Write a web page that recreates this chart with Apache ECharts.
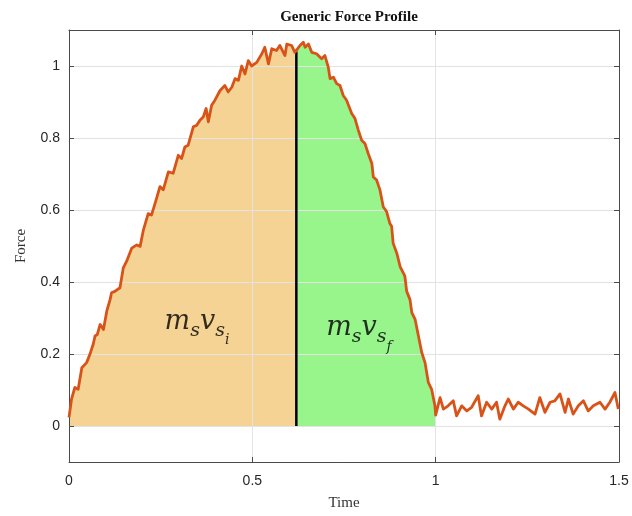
<!DOCTYPE html>
<html><head><meta charset="utf-8">
<script src="https://cdn.jsdelivr.net/npm/echarts@6/dist/echarts.min.js"></script>
<style>html,body{margin:0;padding:0;background:#fff}#c{width:632px;height:516px}</style>
</head><body><div id="c"></div>
<script>
// ---- data ----
const time = [
  0.000,0.007,0.016,0.025,0.035,0.039,0.048,0.057,0.066,0.071,
  0.077,0.085,0.094,0.103,0.112,0.116,0.125,0.139,0.148,0.157,
  0.171,0.185,0.194,0.203,0.216,0.225,0.239,0.248,0.257,0.271,
  0.284,0.298,0.307,0.316,0.325,0.339,0.348,0.357,0.366,0.374,
  0.380,0.389,0.398,0.412,0.425,0.434,0.444,0.453,0.462,0.471,
  0.480,0.489,0.498,0.512,0.526,0.534,0.544,0.553,0.566,0.575,
  0.589,0.594,0.607,0.616,0.620,0.630,0.639,0.644,0.653,0.662,
  0.675,0.689,0.698,0.707,0.712,0.721,0.730,0.739,0.748,0.757,
  0.771,0.780,0.789,0.798,0.807,0.816,0.826,0.830,0.839,0.848,
  0.857,0.866,0.875,0.880,0.884,0.894,0.903,0.916,0.921,0.930,
  0.935,0.944,0.953,0.962,0.971,0.980,0.989,0.998,1.000,1.012,
  1.021,1.034,1.048,1.057,1.071,1.085,1.098,1.116,1.125,1.139,
  1.153,1.166,1.175,1.189,1.198,1.212,1.225,1.239,1.253,1.271,
  1.284,1.298,1.312,1.325,1.339,1.353,1.362,1.375,1.389,1.403,
  1.416,1.430,1.448,1.462,1.475,1.489,1.498
];
const force = [
  0.024,0.075,0.107,0.102,0.162,0.167,0.176,0.199,0.227,0.250,
  0.254,0.282,0.268,0.319,0.351,0.370,0.374,0.384,0.439,0.457,
  0.494,0.503,0.499,0.545,0.590,0.586,0.633,0.665,0.656,0.706,
  0.702,0.752,0.743,0.775,0.780,0.831,0.835,0.849,0.858,0.882,
  0.845,0.891,0.905,0.932,0.946,0.928,0.941,0.965,0.960,1.000,
  0.978,1.015,1.000,1.010,1.034,1.052,1.006,1.048,1.043,1.057,
  1.029,1.061,1.057,1.038,1.040,1.057,1.066,1.052,1.061,1.038,
  1.034,1.020,1.029,0.997,0.965,0.969,0.951,0.946,0.918,0.905,
  0.868,0.854,0.822,0.794,0.785,0.757,0.729,0.692,0.683,0.656,
  0.609,0.596,0.563,0.554,0.508,0.480,0.443,0.416,0.374,0.351,
  0.315,0.296,0.250,0.204,0.176,0.121,0.102,0.056,0.030,0.079,
  0.047,0.056,0.070,0.028,0.056,0.042,0.052,0.084,0.028,0.066,
  0.047,0.066,0.019,0.056,0.075,0.047,0.066,0.056,0.047,0.033,
  0.079,0.038,0.066,0.070,0.089,0.038,0.075,0.033,0.056,0.070,
  0.042,0.056,0.066,0.047,0.066,0.093,0.047
];
const xTicks = [0, 0.5, 1, 1.5];
const yTicks = [0, 0.2, 0.4, 0.6, 0.8, 1];
const splitTime = 0.62;   // boundary between the two impulse regions
const endTime = 1.0;      // end of the contact
const annotations = [
  {t: 0.349, f: 0.29, sub: 'i'},
  {t: 0.791, f: 0.272, sub: 'f'}
];

// ---- build ----
const pts = time.map((t, i) => [t, force[i]]);
const before = pts.filter(p => p[0] <= splitTime);
const after = pts.filter(p => p[0] >= splitTime && p[0] <= endTime);
const splitForce = force[time.indexOf(splitTime)];

const axisColor = '#4a4a4a';
const gridColor = '#e3e3e3';
const tickFont = {fontSize: 14, color: '#262626', fontFamily: 'Liberation Sans, Arial, sans-serif'};
const edgeLine = {show: true, onZero: false, lineStyle: {color: axisColor, width: 1}};
const edgeTick = {show: true, inside: true, length: 5, lineStyle: {color: axisColor}};

const chart = echarts.init(document.getElementById('c'), null, {renderer: 'canvas'});
chart.setOption({
  animation: false,
  backgroundColor: '#fff',
  title: {
    text: 'Generic Force Profile',
    left: 344, top: 5, textAlign: 'center',
    textStyle: {fontFamily: 'Liberation Serif, serif', fontWeight: 'bold', fontSize: 15, color: '#111'}
  },
  grid: {left: 69, right: 13, top: 30, bottom: 54, containLabel: false},
  xAxis: [{
    type: 'value', min: 0, max: 1.5, interval: 0.5, z: 3,
    name: 'Time', nameLocation: 'middle', nameGap: 34,
    nameTextStyle: {fontFamily: 'Liberation Serif, serif', fontSize: 15, color: '#333'},
    axisLine: edgeLine,
    axisTick: edgeTick,
    axisLabel: Object.assign({margin: 12, customValues: xTicks, formatter: v => String(v)}, tickFont),
    splitLine: {show: true, lineStyle: {color: gridColor, width: 1}}
  }, {
    type: 'value', position: 'top', min: 0, max: 1.5, interval: 0.5, z: 3,
    axisLine: edgeLine,
    axisTick: edgeTick,
    axisLabel: {show: false}, splitLine: {show: false}
  }],
  yAxis: [{
    type: 'value', min: -0.1, max: 1.1, z: 3,
    name: 'Force', nameLocation: 'middle', nameGap: 40, nameRotate: 90,
    nameTextStyle: {fontFamily: 'Liberation Serif, serif', fontSize: 15, color: '#333'},
    axisLine: edgeLine,
    axisTick: Object.assign({customValues: yTicks}, edgeTick),
    axisLabel: Object.assign({margin: 9, customValues: yTicks, formatter: v => String(v)}, tickFont),
    splitLine: {show: true, lineStyle: {color: gridColor, width: 1}}
  }, {
    type: 'value', position: 'right', min: -0.1, max: 1.1, z: 3,
    axisLine: edgeLine,
    axisTick: Object.assign({customValues: yTicks}, edgeTick),
    axisLabel: {show: false, customValues: yTicks}, splitLine: {show: false}
  }],
  series: [
    {
      type: 'line', data: before, z: 1, showSymbol: false, silent: true,
      lineStyle: {width: 0, opacity: 0},
      areaStyle: {color: '#f5d394', opacity: 1, origin: 0}
    },
    {
      type: 'line', data: after, z: 1, showSymbol: false, silent: true,
      lineStyle: {width: 0, opacity: 0},
      areaStyle: {color: '#98f58c', opacity: 1, origin: 0}
    },
    {
      type: 'line', data: [[splitTime, 0], [splitTime, splitForce]], z: 4,
      showSymbol: false, lineStyle: {color: '#000', width: 2.5}
    },
    {
      type: 'line', data: pts, z: 5, showSymbol: false,
      lineStyle: {color: '#d95319', width: 2.8, join: 'round'}
    },
    {
      type: 'scatter', z: 6, symbolSize: 0, silent: true,
      data: annotations.map(a => ({value: [a.t, a.f], sub: a.sub})),
      label: {
        show: true, position: 'inside',
        formatter: p => '{m|m}{s|s}{v|v}{s|s}{i|' + p.data.sub + '}',
        rich: {
          m: {fontFamily: 'DejaVu Serif, serif', fontStyle: 'italic', fontSize: 27, color: '#000'},
          v: {fontFamily: 'DejaVu Serif, serif', fontStyle: 'italic', fontSize: 27, color: '#000'},
          s: {fontFamily: 'DejaVu Serif, serif', fontStyle: 'italic', fontSize: 19, color: '#000', padding: [18, 0, 0, 0]},
          i: {fontFamily: 'DejaVu Serif, serif', fontStyle: 'italic', fontSize: 14, color: '#000', padding: [38, 0, 0, 0]}
        }
      }
    }
  ]
});
</script></body></html>
